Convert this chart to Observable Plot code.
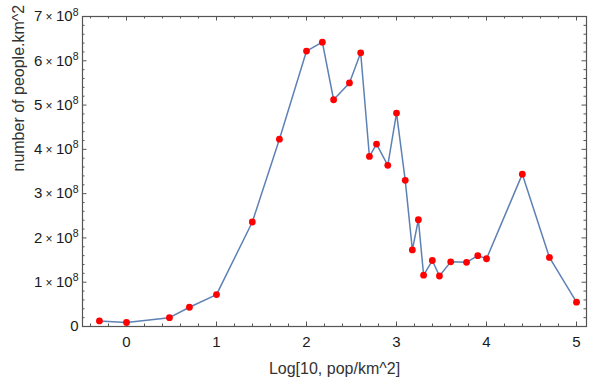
<!DOCTYPE html>
<html>
<head>
<meta charset="utf-8">
<script src="https://cdn.jsdelivr.net/npm/d3@7"></script>
<script src="https://cdn.jsdelivr.net/npm/@observablehq/plot@0.6"></script>
<style>
  html, body { margin: 0; padding: 0; background: #fff; }
  #chart svg { display: block; }
</style>
</head>
<body>
<div id="chart"></div>
<script>
// log10 of population density (pop/km^2)
const logDensity = [-0.301, 0, 0.477, 0.699, 1, 1.398, 1.699, 2, 2.176, 2.301, 2.477, 2.602, 2.699, 2.778, 2.903, 3, 3.097, 3.176, 3.243, 3.301, 3.398, 3.477, 3.602, 3.778, 3.903, 4, 4.398, 4.699, 5];
// number of people.km^2
const people = [0.126e8, 0.09e8, 0.20e8, 0.435e8, 0.72e8, 2.36e8, 4.23e8, 6.22e8, 6.42e8, 5.12e8, 5.50e8, 6.18e8, 3.84e8, 4.12e8, 3.64e8, 4.82e8, 3.30e8, 1.73e8, 2.41e8, 1.16e8, 1.49e8, 1.14e8, 1.46e8, 1.45e8, 1.60e8, 1.53e8, 3.44e8, 1.56e8, 0.55e8];

const xTicks = [0, 1, 2, 3, 4, 5];
const xTickLabels = ["0", "1", "2", "3", "4", "5"];
const xMinorTicks = [-0.4, -0.2, 0.2, 0.4, 0.6, 0.8, 1.2, 1.4, 1.6, 1.8, 2.2, 2.4, 2.6, 2.8, 3.2, 3.4, 3.6, 3.8, 4.2, 4.4, 4.6, 4.8, 5.0];
const yTicks = [0, 1e8, 2e8, 3e8, 4e8, 5e8, 6e8, 7e8];
const yTickLabels = ["0", "1×10^8", "2×10^8", "3×10^8", "4×10^8", "5×10^8", "6×10^8", "7×10^8"];
const yMinorTicks = [0.2e8, 0.4e8, 0.6e8, 0.8e8, 1.2e8, 1.4e8, 1.6e8, 1.8e8, 2.2e8, 2.4e8, 2.6e8, 2.8e8, 3.2e8, 3.4e8, 3.6e8, 3.8e8, 4.2e8, 4.4e8, 4.6e8, 4.8e8, 5.2e8, 5.4e8, 5.6e8, 5.8e8, 6.2e8, 6.4e8, 6.6e8, 6.8e8];
const xTitle = "Log[10, pop/km^2]";
const yTitle = "number of people.km^2";

const data = logDensity.map((x, i) => ({x, y: people[i]}));

const W = 600, H = 380;
const mL = 82, mR = 14, mT = 16, mB = 54;
const innerW = W - mL - mR, innerH = H - mT - mB;
const frameColor = "#555";
const majorLen = 4.5, minorLen = 2.5;

const svg = Plot.plot({
  width: W,
  height: H,
  marginLeft: mL,
  marginRight: mR,
  marginTop: mT,
  marginBottom: mB,
  style: {fontFamily: "'Liberation Sans', Arial, Helvetica, sans-serif", fontSize: "15px", color: "#1a1a1a", background: "#fff"},
  x: {domain: [-0.489, 5.111]},
  y: {domain: [0, 7e8]},
  marks: [
    // inward ticks: bottom & top
    Plot.tickX(xTicks, {x: d => d, insetTop: innerH - majorLen, stroke: frameColor, strokeWidth: 1}),
    Plot.tickX(xTicks, {x: d => d, insetBottom: innerH - majorLen, stroke: frameColor, strokeWidth: 1}),
    Plot.tickX(xMinorTicks, {x: d => d, insetTop: innerH - minorLen, stroke: frameColor, strokeWidth: 1}),
    Plot.tickX(xMinorTicks, {x: d => d, insetBottom: innerH - minorLen, stroke: frameColor, strokeWidth: 1}),
    // inward ticks: left & right
    Plot.tickY(yTicks, {y: d => d, insetRight: innerW - majorLen, stroke: frameColor, strokeWidth: 1}),
    Plot.tickY(yTicks, {y: d => d, insetLeft: innerW - majorLen, stroke: frameColor, strokeWidth: 1}),
    Plot.tickY(yMinorTicks, {y: d => d, insetRight: innerW - minorLen, stroke: frameColor, strokeWidth: 1}),
    Plot.tickY(yMinorTicks, {y: d => d, insetLeft: innerW - minorLen, stroke: frameColor, strokeWidth: 1}),
    Plot.axisX({ticks: xTicks, tickSize: 0, tickPadding: 10, tickFormat: d => xTickLabels[xTicks.indexOf(d)], label: null, fontSize: 15}),
    Plot.axisY({ticks: yTicks, tickSize: 0, tickPadding: 4, tickFormat: d => yTickLabels[yTicks.indexOf(d)], label: null, fontSize: 15}),
    Plot.frame({stroke: frameColor, strokeWidth: 1.2}),
    Plot.line(data, {x: "x", y: "y", stroke: "#5e81b5", strokeWidth: 1.5}),
    Plot.dot(data, {x: "x", y: "y", r: 3.4, fill: "#ff0000", stroke: "none"}),
    Plot.text([xTitle], {text: d => d, frameAnchor: "bottom", dy: 42, lineAnchor: "middle", fontSize: 16, fill: "#333"}),
    Plot.text([yTitle], {text: d => d, frameAnchor: "left", dx: -64, rotate: -90, lineAnchor: "middle", fontSize: 16, fill: "#333"})
  ]
});

// render "n×10^k" tick labels with a real superscript
const ns = "http://www.w3.org/2000/svg";
svg.querySelectorAll('g[aria-label="y-axis tick label"] text').forEach(t => {
  const m = t.textContent.match(/^(\d+)×(\d+)\^(\d+)$/);
  if (!m) return;
  t.textContent = "";
  const a = document.createElementNS(ns, "tspan"); a.textContent = m[1];
  const x = document.createElementNS(ns, "tspan"); x.textContent = " × "; x.setAttribute("font-size", "12");
  const b = document.createElementNS(ns, "tspan"); b.textContent = m[2]; b.setAttribute("font-size", "15");
  const e = document.createElementNS(ns, "tspan"); e.textContent = m[3]; e.setAttribute("font-size", "10.5"); e.setAttribute("dy", "-0.55em");
  t.append(a, x, b, e);
});

document.getElementById("chart").appendChild(svg);
</script>
</body>
</html>
